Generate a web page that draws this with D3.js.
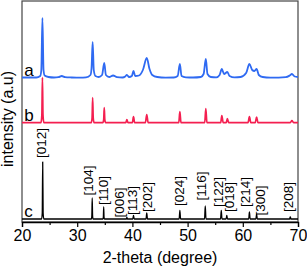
<!DOCTYPE html>
<html>
<head>
<meta charset="utf-8">
<script src="https://cdn.jsdelivr.net/npm/d3@7"></script>
<style>
  body { margin: 0; background: #fff; }
  svg { display: block; font-family: Arial, "Liberation Sans", sans-serif; }
</style>
</head>
<body>
<script>
// 2-theta (deg), intensity above baseline (a.u.)
const seriesA = [
  [20,0.5],[22.6,0.5],[23.3,2],[23.5,8],[23.7,60],[23.9,8],[24.1,2.5],[24.8,1],[25.8,0.5],[26.6,0.8],[27.2,2],[27.8,0.8],
  [29,0.5],[30.5,0.3],[31.6,0.6],[32.4,3],[32.6,10],[32.8,36],[33.0,8],[33.3,2],[33.9,1],[34.5,3],[34.9,15],[35.2,3],
  [35.8,1],[36.5,2.5],[37.2,0.8],[38.2,0.5],[38.7,1.5],[39.0,3.2],[39.4,1],[39.9,2],[40.2,7],[40.5,2],[41.2,2.5],[41.9,8],
  [42.6,20],[43.1,9],[43.6,3],[44.5,1],[46,0.4],[47.5,0.5],[48.2,2],[48.6,14],[48.9,2],[49.7,0.7],[51,0.5],[52.4,1],
  [52.9,4],[53.3,19],[53.6,4],[54.2,1],[55.2,0.6],[55.8,3],[56.2,9],[56.6,4],[57.2,6],[57.6,2],[58.5,0.6],[59.6,1],
  [60.6,5],[61.2,14],[61.7,8],[62.1,7],[62.5,9],[62.9,3],[63.6,1],[65,0.4],[66.5,0.4],[67.8,0.8],[68.5,2.5],[68.9,4],
  [69.4,1.5],[70,1]
];
const seriesB = [
  [20,0],[23.45,0],[23.6,8],[23.7,45],[23.8,8],[23.95,0],[32.55,0],[32.7,5],[32.8,25],[32.9,5],[33.05,0],
  [34.65,0],[34.8,3],[34.9,15],[35.0,3],[35.15,0],[38.8,0],[39.0,3],[39.2,0],[40.0,0],[40.2,6],[40.4,0],
  [42.35,0],[42.6,8],[42.85,0],[48.4,0],[48.6,11],[48.8,0],[53.1,0],[53.3,14],[53.5,0],[56.0,0],[56.2,7],[56.45,0],
  [57.0,0],[57.2,4],[57.45,0],[60.95,0],[61.2,6],[61.45,0],[62.25,0],[62.5,5.5],[62.75,0],[68.6,0],[68.9,2],[69.2,0],[70,0]
];
const seriesC = [
  [20,0],[23.55,0],[23.67,6],[23.75,57],[23.83,6],[23.95,0],[32.57,0],[32.65,3],[32.72,21],[32.79,3],[32.87,0],
  [34.67,0],[34.74,2],[34.8,12],[34.86,2],[34.93,0],[38.9,0],[39.0,1.5],[39.1,0],[40.07,0],[40.2,3.5],[40.33,0],
  [42.47,0],[42.6,6],[42.73,0],[48.47,0],[48.6,8.5],[48.73,0],[53.07,0],[53.2,13],[53.33,0],[55.97,0],[56.1,8.5],[56.23,0],
  [56.97,0],[57.1,3.5],[57.23,0],[61.07,0],[61.2,7],[61.33,0],[62.37,0],[62.5,5],[62.63,0],[68.47,0],[68.6,2],[68.73,0],[70,0]
];

const seriesNames = ['a', 'b', 'c'];
const seriesOffset = [144, 99.3, 3];   // vertical stacking offset (a.u.)

// reflections of reference pattern: label, label 2-theta, label base (a.u.)
const hklLabels = ['[012]','[104]','[110]','[006]','[113]','[202]','[024]','[116]','[122]','[018]','[214]','[300]','[208]'];
const hklTheta  = [23.45, 32.0, 34.75, 37.6, 40.0, 42.75, 48.5, 52.55, 55.55, 57.6, 60.5, 63.1, 68.15];
const hklBase   = [60, 22.5, 13, 0.5, 3, 6, 12, 17.5, 11, 6, 11, 2.5, 6];

const xTicks = [20, 30, 40, 50, 60, 70];
const xMinor = [25, 35, 45, 55, 65];

const W = 307, H = 267;
const margin = {left: 22, right: 9, top: 1, bottom: 45};

const svg = d3.select('body').append('svg')
  .attr('width', W)
  .attr('height', H);

const x = d3.scaleLinear().domain([20, 70]).range([margin.left, W - margin.right]);
const y = d3.scaleLinear().domain([0, 221]).range([H - margin.bottom, margin.top]);

const colors = ['#2f6af2', '#f41f50', '#000000'];
const widths = [1.8, 1.7, 1.3];
const data = [seriesA, seriesB, seriesC];

// frame
svg.append('rect')
  .attr('x', x(20)).attr('y', y(221))
  .attr('width', x(70) - x(20)).attr('height', y(0) - y(221))
  .attr('fill', 'none')
  .attr('stroke', '#444')
  .attr('stroke-width', 1.2);

data.forEach((s, i) => {
  const line = d3.line()
    .x(d => x(d[0]))
    .y(d => y(d[1] + seriesOffset[i]))
    .curve(d3.curveMonotoneX);
  svg.append('path')
    .datum(s)
    .attr('d', line)
    .attr('fill', 'none')
    .attr('stroke', colors[i])
    .attr('stroke-width', widths[i])
    .attr('stroke-linejoin', 'round');

  svg.append('text')
    .attr('x', x(20.4))
    .attr('y', y(seriesOffset[i] + 2))
    .attr('font-size', 17)
    .attr('fill', '#000')
    .text(seriesNames[i]);
});

// hkl labels
svg.selectAll('text.hkl')
  .data(hklLabels)
  .join('text')
  .attr('class', 'hkl')
  .attr('transform', (d, i) => `translate(${x(hklTheta[i])},${y(hklBase[i] + seriesOffset[2] + 1)}) rotate(-90)`)
  .attr('dy', '0.35em')
  .attr('font-size', 13.5)
  .text(d => d);

// x axis
const axis = svg.append('g')
  .attr('transform', `translate(0,${y(0)})`)
  .call(d3.axisBottom(x).tickValues(xTicks).tickSize(5).tickPadding(3).tickFormat(d3.format('d')));
axis.select('.domain').attr('stroke', '#000').attr('stroke-width', 1.3);
axis.selectAll('.tick line').attr('stroke-width', 1.2);
axis.selectAll('text').attr('font-size', 16).attr('font-family', 'Arial, "Liberation Sans", sans-serif');

svg.append('g')
  .attr('transform', `translate(0,${y(0)})`)
  .call(d3.axisBottom(x).tickValues(xMinor).tickSize(3).tickFormat(''))
  .call(g => g.select('.domain').remove())
  .selectAll('.tick line').attr('stroke-width', 1.2);

svg.append('text')
  .attr('x', (x(20) + x(70)) / 2)
  .attr('y', 263)
  .attr('text-anchor', 'middle')
  .attr('font-size', 16)
  .text('2-theta (degree)');

svg.append('text')
  .attr('transform', `translate(13,${y(103)}) rotate(-90)`)
  .attr('text-anchor', 'middle')
  .attr('font-size', 16)
  .text('intensity (a.u)');
</script>
</body>
</html>
